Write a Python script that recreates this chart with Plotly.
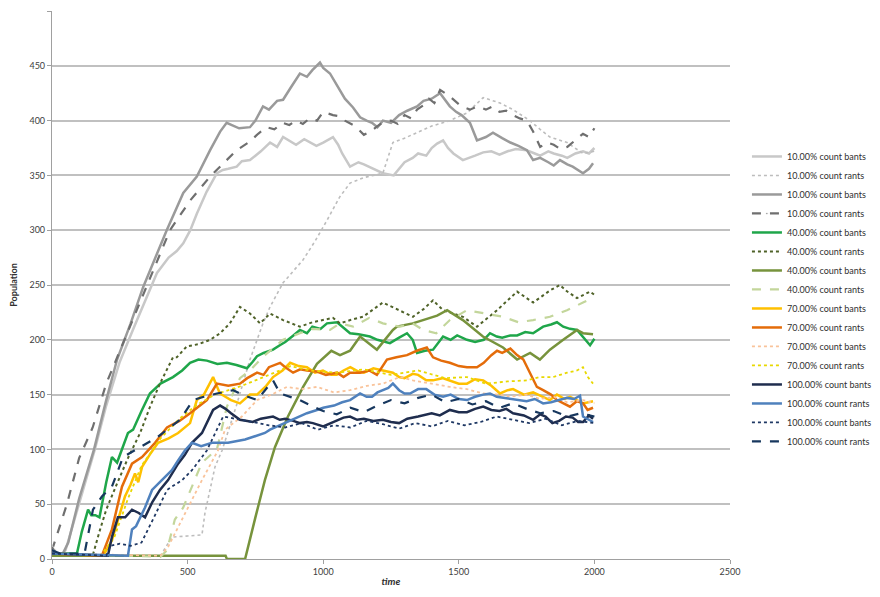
import plotly.graph_objects as go

names = ["10.00% count bants", "10.00% count rants", "10.00% count bants", "10.00% count rants",
         "40.00% count bants", "40.00% count rants", "40.00% count bants", "40.00% count rants",
         "70.00% count bants", "70.00% count rants", "70.00% count bants", "70.00% count rants",
         "100.00% count bants", "100.00% count rants", "100.00% count bants", "100.00% count rants"]

t01 = [0,40,50,70,103,130,158,200,250,300,350,387,430,460,484,510,534,570,608,630,650,681,700,730,750,770,804,830,852,880,900,930,950,975,1000,1036,1055,1070,1099,1130,1150,1190,1220,1260,1300,1330,1350,1380,1400,1420,1442,1460,1480,1515,1540,1560,1590,1620,1650,1680,1710,1750,1780,1800,1830,1850,1880,1900,1930,1958,1980,2000]
v01 = [5,5,8,25,55,78,100,140,180,210,240,261,275,281,288,300,315,335,352,355,356,358,363,364,368,372,380,376,385,381,378,383,380,377,380,385,378,370,358,362,360,355,352,350,362,366,370,368,375,379,382,375,370,364,366,368,371,372,369,372,374,373,370,368,372,370,368,366,370,372,370,375]

t02 = [0,400,430,442,500,553,564,601,627,680,730,778,804,852,926,970,1014,1060,1099,1150,1220,1257,1300,1346,1400,1467,1530,1590,1652,1700,1762,1800,1836,1899,1958,2000]
v02 = [5,3,15,20,21,22,42,84,99,140,182,215,230,252,273,290,309,330,343,348,352,380,384,389,395,400,407,421,416,410,400,392,385,380,370,372]

t03 = [0,40,60,100,155,200,240,290,336,380,423,484,534,583,620,644,690,730,750,778,800,830,852,880,914,940,960,988,1000,1025,1050,1080,1110,1136,1160,1180,1200,1220,1250,1280,1310,1346,1370,1400,1431,1450,1467,1490,1510,1541,1567,1600,1626,1660,1690,1720,1751,1774,1800,1830,1850,1873,1900,1920,1940,1958,1980,1995]
v03 = [5,5,15,55,100,145,182,215,248,275,300,334,349,373,390,398,393,394,400,413,410,418,419,430,443,440,446,453,448,443,432,420,412,403,400,398,394,400,398,405,409,413,418,420,425,419,413,408,405,398,382,385,389,384,380,377,373,364,366,362,359,364,360,358,355,352,356,361]

t04 = [0,30,55,100,150,200,262,300,361,435,509,583,681,730,760,792,820,850,875,900,925,950,977,1000,1036,1060,1080,1110,1130,1150,1175,1200,1225,1250,1275,1300,1325,1346,1370,1390,1410,1431,1450,1467,1500,1520,1541,1570,1600,1625,1650,1675,1700,1725,1751,1774,1800,1825,1850,1875,1900,1930,1958,1980,2000]
v04 = [8,30,50,92,120,160,197,220,255,300,327,349,373,381,388,394,392,398,396,400,397,402,400,408,405,404,400,396,392,387,390,395,399,400,397,405,402,410,414,420,416,428,425,422,415,412,410,413,410,413,408,409,405,402,400,390,376,380,378,374,376,382,388,385,393]

t05 = [0,92,110,133,145,160,175,200,221,240,280,299,330,361,400,446,480,509,540,571,610,645,680,719,740,756,780,815,840,860,890,914,940,960,990,1014,1051,1075,1099,1130,1172,1200,1220,1246,1280,1309,1330,1346,1375,1405,1442,1470,1494,1530,1560,1592,1615,1640,1660,1690,1715,1745,1774,1811,1840,1862,1885,1910,1936,1958,1984,2000]
v05 = [5,5,25,45,40,40,38,70,93,88,115,118,135,151,160,166,172,179,182,181,178,179,177,174,180,185,188,191,195,198,204,209,206,212,210,215,216,211,206,205,203,200,199,197,202,206,200,188,190,191,203,200,204,200,198,200,206,203,202,204,204,207,206,212,214,216,212,210,209,203,195,201]

t06 = [0,150,175,200,240,280,325,360,398,446,460,497,540,583,620,656,693,730,755,767,804,852,914,960,1036,1062,1100,1147,1220,1283,1331,1370,1405,1442,1515,1567,1641,1680,1715,1774,1836,1873,1900,1936,1984,2000]
v06 = [5,3,25,45,69,92,115,138,160,184,184,194,196,200,206,215,230,224,218,215,224,218,212,216,220,215,218,221,234,227,221,228,236,227,221,212,227,236,244,234,245,250,244,238,244,241]

t07 = [0,640,645,712,750,785,822,870,926,977,1030,1062,1099,1136,1198,1257,1272,1330,1368,1420,1457,1515,1589,1663,1715,1763,1799,1836,1885,1936,1958,1995]
v07 = [3,3,0,0,38,72,102,130,157,178,190,186,190,203,191,209,212,215,218,222,227,218,203,193,182,188,182,191,200,209,206,205]

t08 = [0,400,424,453,484,501,553,608,645,693,730,780,852,914,960,1025,1062,1110,1170,1220,1283,1330,1368,1417,1467,1530,1590,1663,1720,1774,1836,1899,1958,1995]
v08 = [5,2,8,36,47,57,88,100,139,165,172,185,200,206,210,209,215,212,220,215,212,215,209,206,218,227,224,221,216,218,221,227,234,238]

t09 = [0,189,221,250,269,290,306,318,332,360,391,430,465,509,534,560,594,619,660,693,730,756,790,815,850,878,910,940,970,999,1030,1050,1075,1100,1130,1150,1185,1220,1257,1280,1300,1330,1350,1380,1405,1440,1467,1500,1530,1560,1590,1620,1652,1680,1700,1740,1774,1800,1836,1862,1890,1910,1935,1958,1995]
v09 = [5,3,17,40,57,68,78,70,84,95,106,110,115,124,145,150,166,151,145,142,150,150,158,166,172,179,176,175,170,172,168,168,172,175,171,170,174,172,170,166,165,169,168,163,163,165,163,160,160,164,163,158,151,154,155,150,152,149,145,150,146,148,145,142,144]

t10 = [0,184,221,258,295,332,380,424,470,509,571,608,650,693,720,756,780,800,841,860,889,915,940,977,1010,1051,1075,1099,1136,1170,1198,1235,1270,1309,1345,1382,1405,1435,1467,1500,1530,1567,1592,1620,1641,1660,1690,1715,1738,1763,1788,1811,1840,1862,1885,1910,1935,1958,1975,1995]
v10 = [5,3,27,66,87,93,106,120,126,133,145,160,158,160,165,170,168,175,179,175,170,173,172,171,168,170,166,170,170,172,168,182,184,186,190,193,184,181,179,176,175,175,179,186,190,188,192,186,182,170,157,154,150,145,142,139,144,142,136,138]

t11 = [0,400,428,490,553,612,638,700,756,810,866,920,977,1040,1099,1160,1220,1283,1330,1400,1467,1530,1590,1650,1689,1750,1800,1850,1900,1958,2000]
v11 = [5,3,11,42,72,99,118,130,145,150,157,155,157,152,154,158,160,166,163,160,157,155,151,150,148,150,146,148,143,145,142]

t12 = [0,180,230,280,330,400,470,530,600,700,800,880,950,1050,1150,1250,1350,1450,1530,1600,1680,1751,1800,1848,1899,1936,1958,1976,1995]
v12 = [5,3,20,55,85,110,128,140,150,158,168,176,172,170,173,168,172,165,166,160,162,163,166,166,170,172,175,166,160]

t13 = [0,206,221,243,270,295,320,343,370,398,428,465,490,516,553,594,620,640,660,693,720,740,770,815,840,860,890,914,940,962,1000,1030,1050,1075,1099,1125,1150,1185,1220,1250,1280,1310,1350,1380,1400,1430,1467,1500,1530,1560,1590,1620,1650,1675,1700,1740,1774,1800,1820,1845,1870,1895,1920,1940,1958,1980,1995]
v13 = [5,3,20,38,38,45,42,38,52,63,72,87,95,106,115,136,140,137,133,127,126,125,128,130,127,128,126,124,125,124,121,124,126,129,130,127,128,126,127,125,124,128,130,132,133,131,136,134,134,137,139,136,135,137,133,131,127,132,130,124,126,130,129,125,125,131,128]

t14 = [0,280,295,310,343,369,405,442,465,490,516,550,590,649,712,785,804,830,860,885,914,940,977,1000,1040,1070,1099,1136,1160,1180,1200,1220,1240,1257,1280,1300,1320,1350,1380,1410,1442,1470,1500,1530,1560,1590,1615,1640,1670,1690,1715,1750,1780,1811,1840,1870,1899,1925,1947,1958,1975,1995]
v14 = [5,3,27,30,47,63,72,81,90,99,106,103,106,106,109,115,118,121,124,127,130,133,136,138,140,143,145,151,148,148,152,154,156,160,154,151,151,155,155,150,148,150,146,145,148,150,151,148,147,146,145,144,146,142,143,145,147,146,149,130,128,125]

t15 = [0,200,215,250,290,330,380,424,442,480,516,571,631,680,740,800,860,920,980,1040,1100,1160,1220,1280,1340,1400,1460,1520,1580,1640,1700,1760,1820,1880,1940,2000]
v15 = [5,3,12,14,12,15,40,63,66,72,81,99,130,128,125,122,120,124,118,122,120,126,123,119,124,121,126,122,125,130,127,124,128,122,126,124]

t16 = [0,30,120,151,184,221,262,325,387,472,520,560,608,668,700,756,815,841,914,962,1000,1050,1100,1150,1200,1250,1300,1350,1400,1450,1500,1550,1600,1650,1700,1750,1800,1850,1900,1950,2000]
v16 = [8,5,5,45,57,66,93,102,111,127,145,148,151,154,150,145,163,151,145,139,135,132,138,134,140,145,142,147,150,143,146,141,144,138,142,137,133,135,130,133,130]

ts = [t01,t02,t03,t04,t05,t06,t07,t08,t09,t10,t11,t12,t13,t14,t15,t16]
vs = [v01,v02,v03,v04,v05,v06,v07,v08,v09,v10,v11,v12,v13,v14,v15,v16]

colors = ["#c8c8c8", "#bdbdbd", "#9a9a9a", "#6f6f6f",
          "#1fa64a", "#4f6228", "#77933c", "#c3d69b",
          "#ffc000", "#e46c0a", "#f9c39a", "#e8d800",
          "#1f2d4e", "#4f81bd", "#1f3864", "#17375e"]
dashes = ["solid", "dot", "solid", "dash",
          "solid", "dot", "solid", "dash",
          "solid", "solid", "dot", "dot",
          "solid", "solid", "dot", "dash"]
widths = [2.5, 1.6, 2.5, 2.2, 2.5, 2, 2.5, 2.2, 2.5, 2.5, 1.8, 1.8, 2.5, 2.5, 1.8, 2.2]

fig = go.Figure()
for i in range(16):
    trace = dict(x=ts[i], y=vs[i], name=names[i], mode="lines",
                 line=dict(color=colors[i], dash=dashes[i], width=widths[i]))
    if i == 3:
        trace["mode"] = "lines+markers"
        trace["marker"] = dict(symbol="diamond", size=[7] + [0] * (len(ts[i]) - 1), color=colors[i])
    fig.add_trace(go.Scatter(**trace))

fig.update_layout(
    width=864, height=581,
    margin=dict(l=44, r=142, t=3, b=30, autoexpand=False),
    paper_bgcolor="white", plot_bgcolor="white",
    font=dict(family="Lato, Open Sans, sans-serif", size=9, color="#404040"),
    showlegend=True,
    legend=dict(x=1.025, y=0.761, xanchor="left", yanchor="top",
                font=dict(size=9, color="#303030"), tracegroupgap=0,
                bgcolor="rgba(0,0,0,0)"),
)
fig.update_xaxes(range=[0, 2500], tick0=0, dtick=500, showgrid=False, automargin=False,
                 showline=True, linecolor="#a0a0a0", linewidth=1.2,
                 ticks="outside", ticklen=4, tickcolor="#a0a0a0",
                 title=dict(text="<b><i>time</i></b>", font=dict(size=10, color="#303030"), standoff=2),
                 zeroline=False)
fig.update_yaxes(range=[0, 500], tick0=0, dtick=50, showgrid=True, automargin=False,
                 gridcolor="#c0c0c0", gridwidth=1.5,
                 showline=True, linecolor="#a0a0a0", linewidth=1.2,
                 ticks="outside", ticklen=4, tickcolor="#a0a0a0",
                 title=dict(text="<b>Population</b>", font=dict(size=9, color="#303030"), standoff=14),
                 zeroline=False)

fig.write_html("out.html")
